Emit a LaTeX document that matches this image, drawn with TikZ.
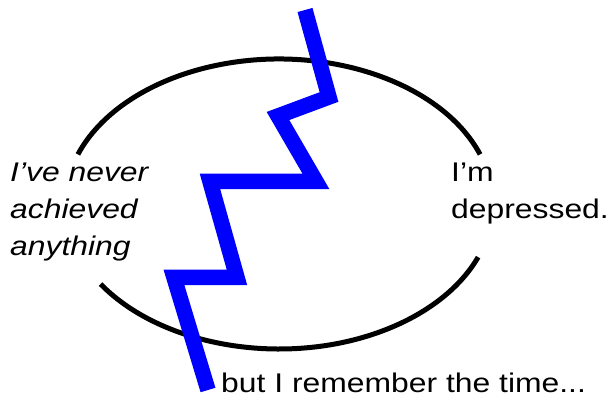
\documentclass[tikz,border=0pt]{standalone}
\usepackage{fontspec}
\setmainfont{Liberation Sans}[FakeStretch=1.18]
\usepackage{tikz}

\begin{document}
\begin{tikzpicture}[x=1pt,y=1pt,
    says/.style={font=\fontsize{27}{37}\selectfont,inner sep=0pt,align=left,anchor=base west},
    bolt/.style={draw=blue,line width=15.5pt,line cap=butt,line join=miter}]
  \useasboundingbox (0,0) rectangle (610,399);

  % the ring, broken where the words sit
  \draw[line width=5pt] (279,195) ++(20:214 and 145)
    arc[start angle=20,end angle=160,x radius=214,y radius=145];
  \draw[line width=5pt] (279,195) ++(213.5:214 and 145)
    arc[start angle=213.5,end angle=338.5,x radius=214,y radius=145];

  % what is said (base = last line)
  \node[says,font=\fontsize{27}{37}\selectfont\itshape] (never) at (10,143)
    {I’ve never\\achieved\\anything};
  \node[says] (depressed) at (451,180) {I’m\\depressed.};
  \node[says] (remember) at (221,7) {but I remember the time...};

  % the zigzag through it
  \coordinate (z0) at (305,389);
  \coordinate (z1) at (329,302);
  \coordinate (z2) at (278,283);
  \coordinate (z3) at (316,217.5);
  \coordinate (z4) at (210,217.5);
  \coordinate (z5) at (237,121.5);
  \coordinate (z6) at (174,121.5);
  \coordinate (z7) at (208,9);
  \draw[bolt] (z0) -- (z1) -- (z2) -- (z3) -- (z4) -- (z5) -- (z6) -- (z7);
\end{tikzpicture}
\end{document}
